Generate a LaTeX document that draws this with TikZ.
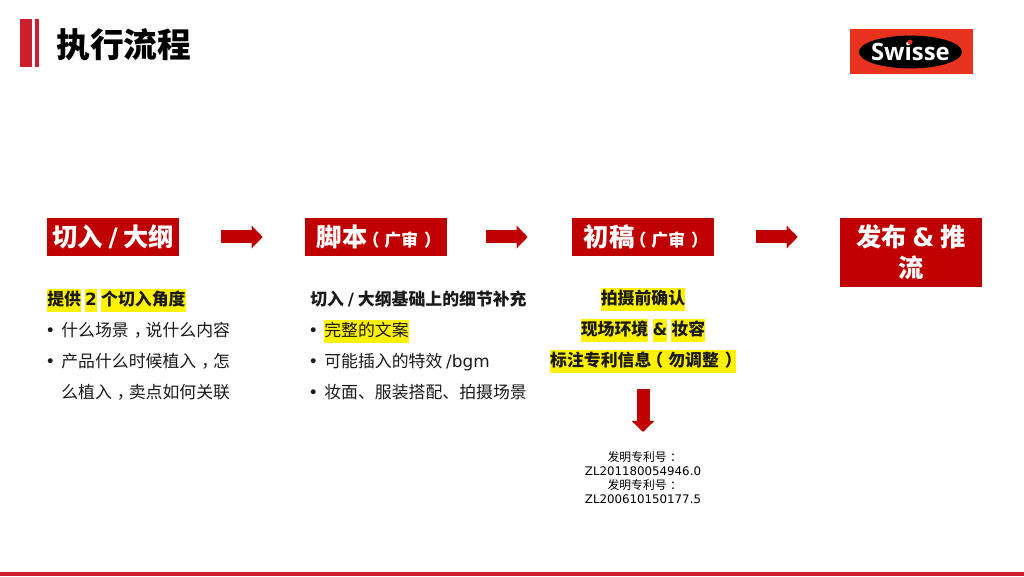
\documentclass[tikz,border=0pt]{standalone}
\usepackage{fontspec}
\setmainfont{Noto Sans CJK SC}
\newfontfamily\dvfont{DejaVu Sans}
\newfontfamily\logofont{Open Sans}
\usepackage{xcolor}
\usetikzlibrary{arrows.meta, positioning, calc, shapes.geometric}
\definecolor{sbar}{HTML}{CC1F2D}
\definecolor{sbox}{HTML}{C00000}
\definecolor{slogo}{HTML}{E8321E}
\definecolor{stext}{HTML}{1A1A1A}
\setlength{\fboxsep}{0pt}
\newcommand{\hlt}[1]{\colorbox{yellow}{\rule[-4.2pt]{0pt}{16pt}#1}}
\newcommand{\stt}{\rule[-4.2pt]{0pt}{16pt}}
\newcommand{\bul}{\makebox[10pt][l]{\hspace{-1.4pt}\dvfont\textbullet}}
% full-width punctuation, set in the middle of its cell
\newcommand{\pmark}[2]{\makebox[1em][l]{\hspace{#1em}#2}}
\tikzset{
  headbox/.style={fill=sbox, text=white, font=\fontsize{18}{22}\selectfont\bfseries, inner sep=0pt, align=center},
  flow/.style={draw=sbox, line width=0.325cm, -{Triangle[length=0.275cm, width=0.55cm]}},
  bodytext/.style={font=\fontsize{12}{22}\selectfont, text=stext, inner sep=0pt}
}
\begin{document}
\begin{tikzpicture}[x=1cm, y=1cm]
\useasboundingbox (0,0) rectangle (25.6,14.4);
\fill[white] (0,0) rectangle (25.6,14.4);
% title
\fill[sbar] (0.5,12.725) rectangle (0.8,13.925);
\fill[sbar] (0.885,12.725) rectangle (0.985,13.925);
\fill[sbar] (0,0) rectangle (25.6,0.1);
\node[font=\fontsize{24}{28}\selectfont\bfseries, text=black, anchor=west, inner sep=0pt] (title)
  at (1.4,13.275) {执行流程};
% logo
\fill[slogo] (21.25,12.55) rectangle (24.32,13.675);
\node[ellipse, fill=black, minimum width=2.58cm, minimum height=0.82cm, inner sep=0pt] (logo)
  at (22.76,13.1) {};
\node[font=\logofont\fontsize{17}{20}\selectfont\bfseries, text=white, inner sep=0pt] (logotext)
  at (logo.center) {Swisse};
\node[circle, fill=slogo, minimum size=0.12cm, inner sep=0pt] (logodot) at (22.75,13.35) {};
% flow boxes
\node[headbox, minimum width=3.31cm, minimum height=0.96cm] (outline)
  at (2.83,8.475) {切入 {\dvfont/} 大纲};
\node[headbox, minimum width=3.55cm, minimum height=0.96cm] (script)
  at (9.40,8.475) {脚本{\fontsize{12}{14}\selectfont\pmark{-0.3}{（}广审\pmark{0.35}{）}}};
\node[headbox, minimum width=3.55cm, minimum height=0.96cm] (draft)
  at (16.075,8.475) {初稿{\fontsize{12}{14}\selectfont\pmark{-0.3}{（}广审\pmark{0.35}{）}}};
\node[headbox, minimum width=3.54cm, minimum height=1.725cm, font=\fontsize{18}{22}\selectfont\bfseries] (publish)
  at (22.77,8.09) {发布 {\dvfont\&} 推\\流};
\draw[flow, shorten <=1.04cm, shorten >=1.05cm] (outline) -- (script);
\draw[flow, shorten <=0.975cm, shorten >=1.1cm] (script) -- (draft);
\draw[flow, shorten <=1.05cm, shorten >=1.05cm] (draft.east) -- (draft.east -| publish.west);
% body text
\node[bodytext, anchor=north west, align=left] (anglelist) at (1.175,7.175)
  {\textbf{\hlt{提供}\hspace{3pt}\hlt{\dvfont 2}\hspace{3pt}\hlt{个切入角度}}\\
   \bul 什么场景\pmark{0.3}{，}说什么内容\\
   \bul 产品什么时候植入\pmark{0.3}{，}怎\\
   \hspace{10pt}么植入\pmark{0.3}{，}卖点如何关联};
\node[bodytext, anchor=north west, align=left] (scriptlist) at (7.75,7.175)
  {\stt\textbf{切入 {\dvfont/} 大纲基础上的细节补充}\\
   \bul \hlt{完整的文案}\\
   \bul 可能插入的特效 {\dvfont/bgm}\\
   \bul 妆面、服装搭配、拍摄场景};
\node[bodytext, anchor=north, align=center, font=\fontsize{12}{22}\selectfont\bfseries] (check) at (16.075,7.2)
  {\hlt{拍摄前确认}\\
   \hlt{现场环境}\hspace{3pt}\hlt{\dvfont\&}\hspace{3pt}\hlt{妆容}\\
   \hlt{标注专利信息\pmark{-0.3}{（}勿调整\pmark{0.35}{）}}};
\node[anchor=north, align=center, inner sep=0pt, text=black, font=\fontsize{8.4}{10}\selectfont] (patent) at (16.075,3.125)
  {发明专利号\pmark{0.3}{：}\\{\dvfont ZL201180054946.0}\\发明专利号\pmark{0.3}{：}\\{\dvfont ZL200610150177.5}};
\draw[flow, shorten <=0.4cm, shorten >=0.475cm] (check) -- (patent);
\end{tikzpicture}
\end{document}
